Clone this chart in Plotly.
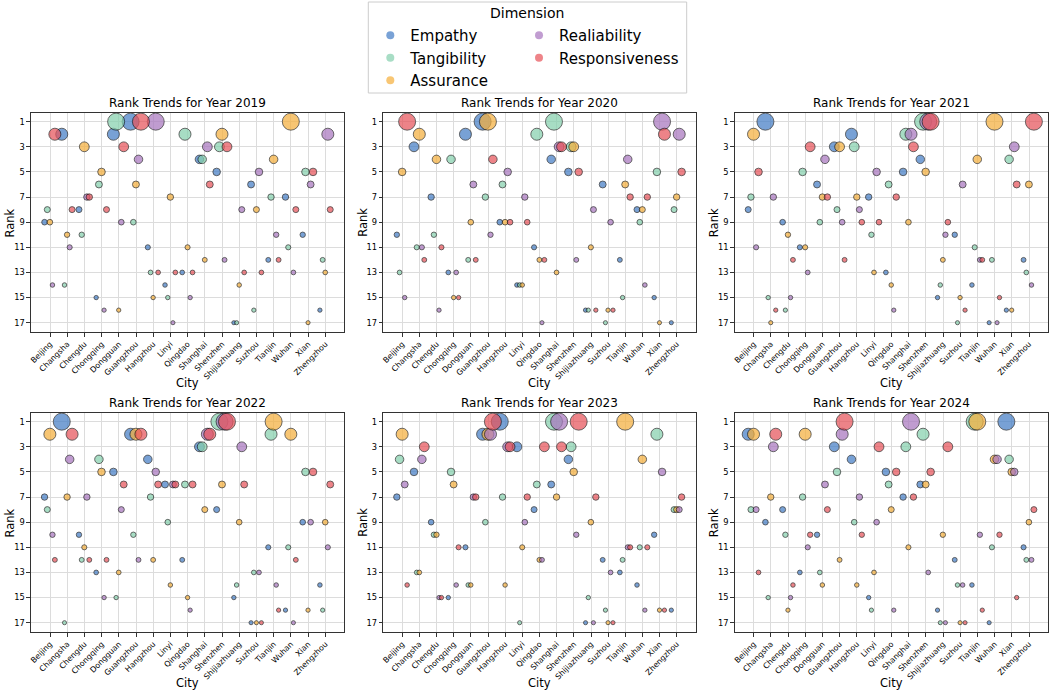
import plotly.graph_objects as go
from plotly.subplots import make_subplots

cities = ['Beijing', 'Changsha', 'Chengdu', 'Chongqing', 'Dongguan', 'Guangzhou',
          'Hangzhou', 'Linyi', 'Qingdao', 'Shanghai', 'Shenzhen', 'Shijiazhuang',
          'Suzhou', 'Tianjin', 'Wuhan', 'Xian', 'Zhengzhou']
dimensions = ['Empathy', 'Tangibility', 'Assurance', 'Realiability', 'Responsiveness']
years = [2019, 2020, 2021, 2022, 2023, 2024]
rank_ticks = [1, 3, 5, 7, 9, 11, 13, 15, 17]

# ranks per city, same order as cities
empathy_2019 = [9, 2, 8, 15, 2, 1, 11, 14, 13, 4, 5, 17, 6, 12, 7, 10, 16]
tangibility_2019 = [8, 14, 10, 6, 1, 9, 13, 15, 2, 4, 3, 17, 16, 7, 11, 5, 12]
assurance_2019 = [9, 10, 3, 5, 16, 6, 15, 7, 11, 12, 2, 14, 8, 4, 1, 17, 13]
realiability_2019 = [14, 11, 7, 16, 9, 4, 1, 17, 15, 3, 12, 8, 5, 10, 13, 6, 2]
responsiveness_2019 = [2, 8, 7, 8, 3, 1, 13, 13, 13, 6, 3, 13, 13, 12, 8, 5, 8]

empathy_2020 = [10, 3, 7, 13, 2, 1, 9, 14, 11, 4, 5, 16, 6, 12, 8, 15, 17]
tangibility_2020 = [13, 11, 10, 4, 12, 7, 6, 14, 2, 1, 3, 16, 17, 15, 9, 5, 8]
assurance_2020 = [5, 2, 4, 15, 9, 1, 9, 14, 12, 13, 3, 11, 16, 6, 8, 17, 7]
realiability_2020 = [15, 11, 16, 13, 6, 10, 5, 7, 17, 3, 12, 8, 9, 4, 14, 1, 2]
responsiveness_2020 = [1, 12, 11, 15, 12, 4, 9, 9, 12, 3, 5, 16, 16, 7, 7, 2, 5]

empathy_2021 = [8, 1, 9, 11, 6, 3, 2, 7, 13, 5, 4, 15, 10, 14, 17, 16, 12]
tangibility_2021 = [7, 15, 16, 5, 9, 8, 3, 10, 6, 2, 1, 14, 17, 11, 12, 4, 13]
assurance_2021 = [2, 17, 10, 11, 7, 3, 7, 13, 14, 9, 5, 12, 15, 4, 1, 16, 6]
realiability_2021 = [11, 7, 15, 13, 4, 9, 8, 5, 16, 2, 1, 10, 6, 12, 17, 3, 14]
responsiveness_2021 = [5, 16, 12, 3, 7, 12, 9, 9, 7, 3, 1, 9, 16, 12, 15, 6, 1]

empathy_2022 = [7, 1, 10, 13, 5, 2, 4, 6, 12, 3, 8, 15, 17, 11, 16, 9, 14]
tangibility_2022 = [8, 17, 12, 4, 15, 10, 7, 9, 6, 3, 1, 14, 13, 2, 11, 5, 16]
assurance_2022 = [2, 7, 11, 5, 13, 2, 12, 14, 15, 8, 6, 9, 17, 1, 2, 16, 9]
realiability_2022 = [10, 4, 7, 15, 8, 12, 5, 6, 16, 2, 1, 3, 13, 14, 17, 9, 11]
responsiveness_2022 = [12, 2, 12, 12, 6, 2, 6, 6, 6, 2, 1, 6, 17, 16, 12, 5, 6]

empathy_2023 = [7, 5, 9, 15, 11, 2, 1, 3, 8, 6, 4, 17, 12, 13, 14, 10, 16]
tangibility_2023 = [4, 13, 10, 5, 14, 9, 7, 17, 6, 1, 3, 15, 16, 12, 11, 2, 8]
assurance_2023 = [2, 13, 10, 6, 14, 2, 14, 11, 12, 7, 5, 9, 17, 1, 4, 16, 8]
realiability_2023 = [6, 4, 15, 14, 7, 2, 3, 9, 12, 1, 10, 17, 13, 11, 16, 5, 8]
responsiveness_2023 = [14, 3, 15, 11, 7, 1, 3, 7, 3, 3, 1, 7, 17, 11, 11, 16, 7]

empathy_2024 = [2, 9, 8, 13, 10, 3, 4, 15, 5, 7, 6, 16, 12, 14, 17, 1, 11]
tangibility_2024 = [8, 15, 10, 7, 13, 5, 9, 16, 6, 3, 2, 17, 14, 1, 11, 4, 12]
assurance_2024 = [2, 7, 16, 2, 14, 12, 14, 13, 8, 11, 6, 10, 17, 1, 4, 5, 9]
realiability_2024 = [8, 3, 15, 11, 6, 2, 7, 9, 16, 1, 13, 17, 14, 10, 4, 5, 12]
responsiveness_2024 = [13, 2, 14, 10, 8, 1, 10, 3, 5, 7, 5, 3, 17, 16, 10, 15, 8]

ranks = {
    2019: [empathy_2019, tangibility_2019, assurance_2019, realiability_2019, responsiveness_2019],
    2020: [empathy_2020, tangibility_2020, assurance_2020, realiability_2020, responsiveness_2020],
    2021: [empathy_2021, tangibility_2021, assurance_2021, realiability_2021, responsiveness_2021],
    2022: [empathy_2022, tangibility_2022, assurance_2022, realiability_2022, responsiveness_2022],
    2023: [empathy_2023, tangibility_2023, assurance_2023, realiability_2023, responsiveness_2023],
    2024: [empathy_2024, tangibility_2024, assurance_2024, realiability_2024, responsiveness_2024],
}

colors = ['rgb(69,126,198)', 'rgb(134,208,174)', 'rgb(245,176,62)', 'rgb(169,119,191)', 'rgb(231,84,91)']
offsets = [-0.32, -0.16, -0.01, 0.14, 0.28]
font = 'DejaVu Sans'
W, H = 1052, 692

# plot areas in pixels (left, right) and (top, bottom)
col_px = [(29, 343), (382, 695), (734, 1048)]
row_px = [(113, 332), (413, 632)]

fig = make_subplots(rows=2, cols=3)

for k, year in enumerate(years):
    row = k // 3 + 1
    col = k % 3 + 1
    for d, dim in enumerate(dimensions):
        vals = ranks[year][d]
        fig.add_trace(go.Scatter(
            x=[i + offsets[d] for i in range(len(cities))],
            y=vals,
            mode='markers',
            name=dim,
            showlegend=False,
            text=cities,
            hovertemplate='%{text}<br>Rank %{y}<extra>' + dim + '</extra>',
            marker=dict(size=[17 / r ** 0.5 for r in vals], color=colors[d], opacity=0.72,
                        line=dict(color='black', width=0.8)),
        ), row=row, col=col)

# legend entries
for d, dim in enumerate(dimensions):
    fig.add_trace(go.Scatter(
        x=[None], y=[None], mode='markers', name=dim,
        legend='legend' if d < 3 else 'legend2',
        marker=dict(size=8, color=colors[d], opacity=0.72),
    ), row=1, col=1)

annotations = []
for k, year in enumerate(years):
    r = k // 3
    c = k % 3
    n = '' if k == 0 else str(k + 1)
    x0, x1 = col_px[c]
    y0, y1 = row_px[r]
    fig.layout['xaxis' + n].update(
        domain=[x0 / W, x1 / W], range=[-1.11, 17.1],
        tickvals=list(range(len(cities))), ticktext=cities, tickangle=-45,
        tickfont=dict(size=7.8, color='black'),
        showgrid=True, gridcolor='#dcdcdc', gridwidth=1, zeroline=False,
        showline=True, mirror=True, linecolor='#333333', linewidth=1,
        ticks='outside', ticklen=3.5, tickcolor='#333333',
    )
    fig.layout['yaxis' + n].update(
        domain=[1 - y1 / H, 1 - y0 / H], range=[17.74, 0.31],
        tickvals=rank_ticks, tickfont=dict(size=8.3, color='black'),
        showgrid=True, gridcolor='#dcdcdc', gridwidth=1, zeroline=False,
        showline=True, mirror=True, linecolor='#333333', linewidth=1,
        ticks='outside', ticklen=3.5, tickcolor='#333333',
    )
    annotations.append(dict(text='Rank Trends for Year %d' % year, x=(x0 + x1) / 2 / W,
                            y=1 - (y0 - 10) / H, xref='paper', yref='paper',
                            xanchor='center', yanchor='middle', showarrow=False,
                            font=dict(size=12, color='black')))
    annotations.append(dict(text='City', x=(x0 + x1) / 2 / W, y=1 - (y1 + 51) / H,
                            xref='paper', yref='paper', xanchor='center', yanchor='middle',
                            showarrow=False, font=dict(size=11.5, color='black')))
    annotations.append(dict(text='Rank', x=(x0 - 21) / W, y=1 - (y0 + y1) / 2 / H,
                            xref='paper', yref='paper', xanchor='center', yanchor='middle',
                            textangle=-90, showarrow=False, font=dict(size=11.5, color='black')))

annotations.append(dict(text='Dimension', x=526 / W, y=1 - 13 / H, xref='paper', yref='paper',
                        xanchor='center', yanchor='middle', showarrow=False,
                        font=dict(size=14, color='black')))

fig.update_layout(
    width=W, height=H,
    margin=dict(l=0, r=0, t=0, b=0),
    paper_bgcolor='white', plot_bgcolor='white',
    font=dict(family=font, color='black'),
    annotations=annotations,
    legend=dict(x=369 / W, y=1 - 19 / H, xanchor='left', yanchor='top',
                bgcolor='rgba(0,0,0,0)', font=dict(size=15), tracegroupgap=0),
    legend2=dict(x=518 / W, y=1 - 19 / H, xanchor='left', yanchor='top',
                 bgcolor='rgba(0,0,0,0)', font=dict(size=15), tracegroupgap=0),
    shapes=[dict(type='rect', xref='paper', yref='paper', x0=367 / W, x1=686 / W,
                 y0=1 - 93 / H, y1=1 - 2 / H, line=dict(color='#cccccc', width=1))],
)

fig.write_html('out.html', config={'displayModeBar': False},
               post_script="document.body.style.margin='0px';")
